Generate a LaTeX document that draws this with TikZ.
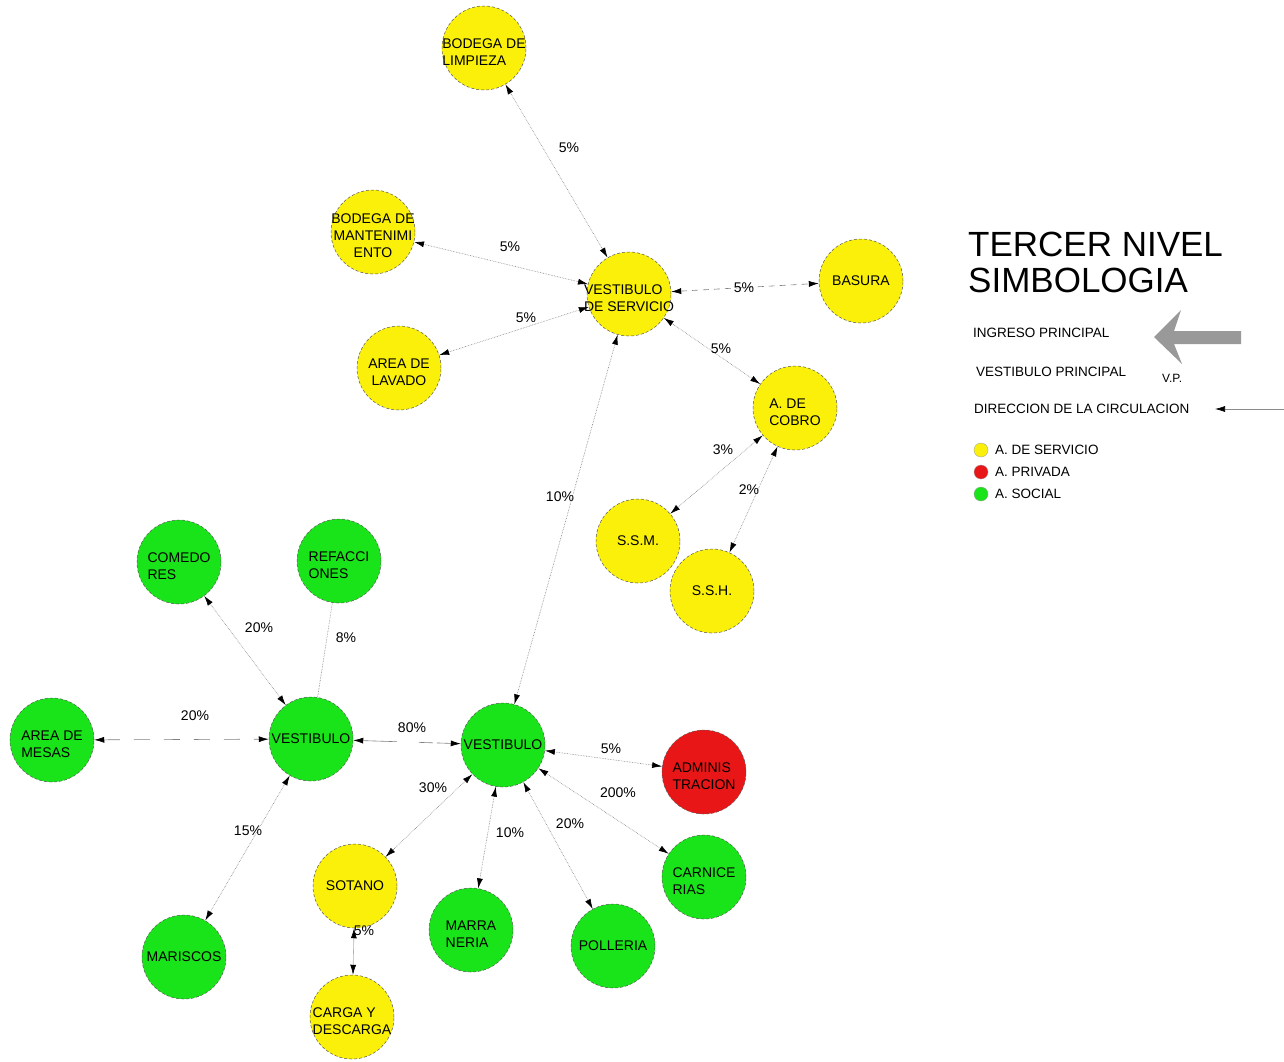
\documentclass[tikz,border=0pt]{standalone}
\usepackage{fontspec}
\setmainfont{Liberation Sans}
\usetikzlibrary{arrows.meta}
\definecolor{ayel}{RGB}{250,240,10}
\definecolor{agreen}{RGB}{25,228,25}
\definecolor{ared}{RGB}{232,22,22}
\newcommand\nt[2]{\makebox[0pt]{\raisebox{-9pt}[0pt][0pt]{\begin{tabular}{@{}#1@{}}#2\end{tabular}}}}
\begin{document}
\begin{tikzpicture}[x=1pt,y=-1pt,
  >={Latex[length=10pt,width=6pt,color=black]},
  area/.style={circle, minimum size=84pt, inner sep=0pt, draw=black!65, densely dashed, line width=0.5pt, font=\fontsize{14}{17}\selectfont},
  serv/.style={area, fill=ayel},
  soc/.style={area, fill=agreen},
  priv/.style={area, fill=ared},
  flow/.style={draw=black!50, densely dotted, line width=0.6pt, <->},
  pct/.style={font=\fontsize{14}{16}\selectfont, inner sep=0pt},
  leg/.style={font=\fontsize{13.5}{16}\selectfont, anchor=west, inner sep=0pt},
  dot/.style={circle, minimum size=14pt, inner sep=0pt, draw=black!40, line width=0.3pt}]
\useasboundingbox (0,0) rectangle (1284,1061);
\fill[white] (0,0) rectangle (1284,1061);
% areas
\node[serv] (lim) at (484,48) {\nt{l}{BODEGA DE\\LIMPIEZA}};
\node[serv] (man) at (373,232) {\nt{c}{BODEGA DE\\MANTENIMI\\ENTO}};
\node[serv] (lav) at (399,368) {\nt{c}{AREA DE\\LAVADO}};
\node[serv] (vs) at (629,294) {\nt{l}{VESTIBULO\\DE SERVICIO}};
\node[serv] (bas) at (861,281) {BASURA};
\node[serv] (cob) at (795,408) {\nt{l}{A. DE\\COBRO}};
\node[serv] (ssm) at (638,541) {S.S.M.};
\node[serv] (ssh) at (712,591) {S.S.H.};
\node[soc] (com) at (179,562) {\nt{l}{COMEDO\\RES}};
\node[soc] (ref) at (339,561) {\nt{l}{REFACCI\\ONES}};
\node[soc] (mes) at (52,740) {\nt{l}{AREA DE\\MESAS}};
\node[soc] (vl) at (311,739) {\makebox[0pt]{VESTIBULO}};
\node[soc] (vc) at (503,745) {\makebox[0pt]{VESTIBULO}};
\node[priv] (adm) at (704,772) {\nt{l}{ADMINIS\\TRACION}};
\node[serv] (sot) at (355,886) {SOTANO};
\node[soc] (mar) at (471,930) {\nt{l}{MARRA\\NERIA}};
\node[soc] (pol) at (613,946) {POLLERIA};
\node[soc] (car) at (704,877) {\nt{l}{CARNICE\\RIAS}};
\node[soc] (mis) at (184,957) {\makebox[0pt]{MARISCOS}};
\node[serv] (cyd) at (352,1017) {\nt{l}{CARGA Y\\DESCARGA}};
% connectors
\draw[flow] (lim) -- (vs);
\draw[flow] (man) -- (vs);
\draw[flow] (lav) -- (vs);
\draw[flow, dash pattern=on 6pt off 5pt] (vs) -- (bas);
\draw[flow] (vs) -- (cob);
\draw[flow] (cob) -- (ssm);
\draw[flow] (cob) -- (ssh);
\draw[flow] (vs) -- (vc);
\draw[flow] (com) -- (vl);
\draw[draw=black!50, densely dotted, line width=0.6pt] (ref) -- (vl);
\draw[flow, dash pattern=on 16pt off 14pt] (mes) -- (vl);
\draw[flow, dash pattern=on 34pt off 22pt on 14pt off 4pt] (vl) -- (vc);
\draw[flow] (vl) -- (mis);
\draw[flow] (vc) -- (adm);
\draw[flow] (vc) -- (car);
\draw[flow] (vc) -- (sot);
\draw[flow] (vc) -- (mar);
\draw[flow] (vc) -- (pol);
\draw[flow, draw=black!30, solid] (sot) -- (cyd);
% labels
\node[pct] (p1) at (569,148) {5\%};
\node[pct] (p2) at (510,247) {5\%};
\node[pct] (p3) at (526,318) {5\%};
\node[pct] (p4) at (744,288) {5\%};
\node[pct] (p5) at (721,349) {5\%};
\node[pct] (p6) at (723,450) {3\%};
\node[pct] (p7) at (749,490) {2\%};
\node[pct] (p8) at (560,497) {10\%};
\node[pct] (p9) at (259,628) {20\%};
\node[pct] (p10) at (346,638) {8\%};
\node[pct] (p11) at (195,716) {20\%};
\node[pct] (p12) at (412,728) {80\%};
\node[pct] (p13) at (248,831) {15\%};
\node[pct] (p14) at (611,749) {5\%};
\node[pct] (p15) at (618,793) {200\%};
\node[pct] (p16) at (433,788) {30\%};
\node[pct] (p17) at (510,833) {10\%};
\node[pct] (p18) at (570,824) {20\%};
\node[pct] (p19) at (364,931) {5\%};
% legend
\node[anchor=west, inner sep=0pt, font=\fontsize{35}{40}\selectfont] (t1) at (968,244) {TERCER NIVEL};
\node[anchor=west, inner sep=0pt, font=\fontsize{35}{40}\selectfont] (t2) at (968,280) {SIMBOLOGIA};
\node[leg] (l1) at (973,333) {INGRESO PRINCIPAL};
\node[leg] (l2) at (976,372) {VESTIBULO PRINCIPAL};
\node[leg, font=\fontsize{12}{14}\selectfont] (l2b) at (1162,378) {V.P.};
\node[leg] (l3) at (974,409) {DIRECCION DE LA CIRCULACION};
\fill[black!40] (1154,337) -- (1181,310) -- (1174,331) -- (1241,331) -- (1241,344) -- (1174,344) -- (1182,364) -- cycle;
\coordinate (da) at (1284,409);
\coordinate (db) at (1215,409);
\draw[draw=black!45, line width=0.6pt, ->] (da) -- (db);
\node[dot, fill=ayel] (d1) at (981,450) {};
\node[dot, fill=ared] (d2) at (981,472) {};
\node[dot, fill=agreen] (d3) at (981,494) {};
\node[leg] (e1) at (995,450) {A. DE SERVICIO};
\node[leg] (e2) at (995,472) {A. PRIVADA};
\node[leg] (e3) at (995,494) {A. SOCIAL};
\end{tikzpicture}
\end{document}
